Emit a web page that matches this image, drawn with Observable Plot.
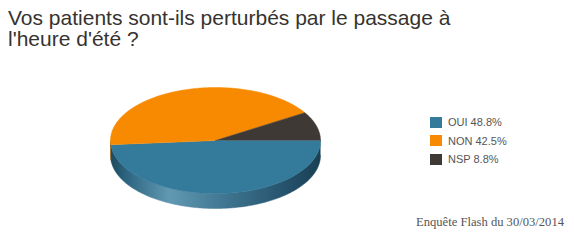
<!DOCTYPE html>
<html>
<head>
<meta charset="utf-8">
<script src="https://cdn.jsdelivr.net/npm/d3@7"></script>
<script src="https://cdn.jsdelivr.net/npm/@observablehq/plot@0.6"></script>
<style>
  html, body { margin: 0; padding: 0; background: #fff; }
  #wrap { position: relative; width: 574px; height: 243px; overflow: hidden; }
  #title { position: absolute; left: 8px; top: 7px; width: 560px; white-space: nowrap; font-family: "Liberation Sans", Arial, sans-serif; font-size: 21px; line-height: 21px; color: #36332f; }
  #chart { position: absolute; left: 0; top: 55px; }
  #legend { position: absolute; left: 430px; top: 113px; font-family: "Liberation Sans", Arial, sans-serif; font-size: 11px; color: #555; }
  .item { display: flex; align-items: center; height: 18.5px; }
  .sw { width: 12px; height: 11px; margin-right: 6px; }
  #caption { position: absolute; right: 10px; top: 215px; font-family: "Liberation Serif", "DejaVu Serif", serif; font-size: 12.6px; color: #555; }
</style>
</head>
<body>
<div id="wrap">
  <div id="title">Vos patients sont-ils perturbés par le passage à<br>l'heure d'été ?</div>
  <div id="chart"></div>
  <div id="legend"></div>
  <div id="caption">Enquête Flash du 30/03/2014</div>
</div>
<script>
// ---- data ----
const categories = ["OUI", "NON", "NSP"];
const values = [48.8, 42.5, 8.8];
const colors = ["#347b9b", "#f78a00", "#3e3935"];
const sideColors = ["url(#sideBlue)", "#a65c00", "#262220"];

// ---- layout ----
const W = 574, H = 188;
const cx0 = 110, cx1 = 320;     // pie horizontal extent (px)
const cy = 85, ry = 53;          // ellipse centre / vertical radius (px, svg coords)
const depth = 15 / ry;           // side depth in unit coords

const total = d3.sum(values);
let acc = 0;
const slices = values.map((v, i) => {
  const a0 = acc / total * 2 * Math.PI;
  acc += v;
  const a1 = acc / total * 2 * Math.PI;
  return {key: categories[i], a0, a1, i};
});

function arcPts(a0, a1, dy) {
  const n = Math.max(2, Math.ceil((a1 - a0) / (Math.PI / 180)));
  const pts = [];
  for (let k = 0; k <= n; k++) {
    const a = a0 + (a1 - a0) * k / n;
    pts.push([Math.cos(a), Math.sin(a) + dy]);
  }
  return pts;
}

const sidePts = [];
const topPts = [];
for (const s of slices) {
  const s0 = Math.max(s.a0, 0), s1 = Math.min(s.a1, Math.PI);
  if (s1 > s0) {
    const upper = arcPts(s0, s1, 0);
    const lower = arcPts(s0, s1, depth).reverse();
    for (const [x, y] of [...upper, ...lower]) sidePts.push({key: s.key, x, y, fill: sideColors[s.i]});
  }
  const poly = [[0, 0], ...arcPts(s.a0, s.a1, 0)];
  for (const [x, y] of poly) topPts.push({key: s.key, x, y, fill: colors[s.i]});
}

const plot = Plot.plot({
  width: W,
  height: H,
  margin: 0,
  x: {domain: [-1, 1], range: [cx0, cx1], axis: null},
  y: {domain: [-1, 1], range: [cy - ry, cy + ry], axis: null},
  color: {type: "identity"},
  marks: [
    Plot.line(sidePts, {x: "x", y: "y", z: "key", fill: "fill", stroke: "fill", strokeWidth: 0.5}),
    Plot.line(topPts, {x: "x", y: "y", z: "key", fill: "fill", stroke: "fill", strokeWidth: 0.5})
  ]
});

// gradient for the visible side of the blue slice
const svg = d3.select(plot);
const defs = svg.insert("defs", ":first-child");
const g = defs.append("linearGradient").attr("id", "sideBlue")
  .attr("gradientUnits", "userSpaceOnUse")
  .attr("x1", cx0).attr("x2", cx1).attr("y1", 0).attr("y2", 0);
[[0, "#1d4a5e"], [0.08, "#2e6682"], [0.28, "#6198b2"], [0.55, "#3f7590"], [0.85, "#24506a"], [1, "#1a4053"]]
  .forEach(([o, c]) => g.append("stop").attr("offset", o).attr("stop-color", c));

document.getElementById("chart").appendChild(plot);

// legend
const legend = document.getElementById("legend");
categories.forEach((c, i) => {
  const item = document.createElement("div");
  item.className = "item";
  item.innerHTML = `<div class="sw" style="background:${colors[i]}"></div><span>${c} ${values[i].toFixed(1)}%</span>`;
  legend.appendChild(item);
});
</script>
</body>
</html>
